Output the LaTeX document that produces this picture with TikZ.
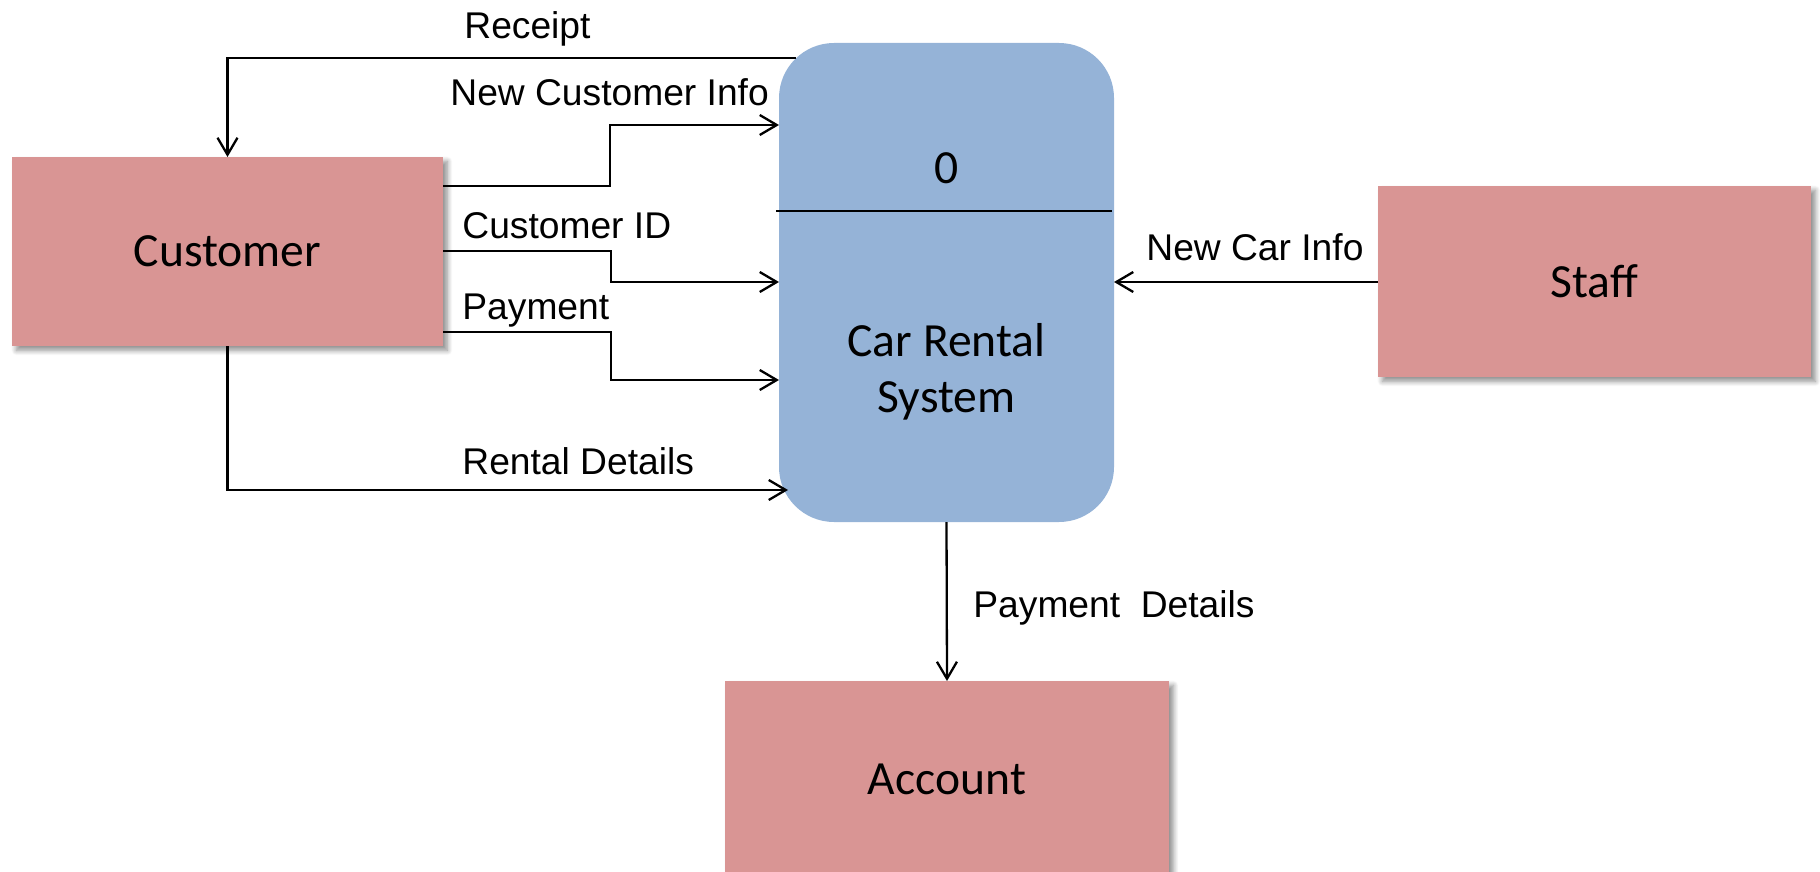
\documentclass[tikz,border=0pt]{standalone}
\usepackage{fontspec}
\setmainfont{Liberation Sans}
\newfontfamily\boxfont{Carlito}
\usetikzlibrary{arrows.meta,calc,shadows.blur}

\definecolor{entityfill}{HTML}{D99594}
\definecolor{processfill}{HTML}{95B3D7}

\tikzset{
  entity/.style={rectangle, fill=entityfill, draw=none, inner sep=0pt, outer sep=0pt,
    font=\boxfont\fontsize{23.8}{28}\selectfont,
    blur shadow={shadow xshift=2.2pt, shadow yshift=-2.2pt, shadow blur radius=2.5pt,
      shadow blur steps=8, shadow opacity=45}},
  process/.style={rectangle, rounded corners=27.5pt, fill=processfill, draw=none,
    inner sep=0pt, outer sep=0pt},
  ptext/.style={font=\boxfont\fontsize{23.8}{28}\selectfont, inner sep=0pt, align=center},
  flow/.style={line width=1.15pt, -{Straight Barb[length=8.5pt,width=10pt,line width=1.15pt]}},
  flowlabel/.style={font=\fontsize{18.6}{22}\selectfont, inner sep=0pt, anchor=base west}
}

\begin{document}
\begin{tikzpicture}[x=0.5pt, y=-0.5pt]
  \useasboundingbox (0,0) rectangle (1820,872);

  % external entities
  \node[entity, minimum width=215.5pt, minimum height=94.5pt] (cust) at (227.5,251.5) {Customer};
  \node[entity, minimum width=216.5pt, minimum height=95.5pt] (staff) at (1594.5,281.5) {Staff};
  \node[entity, minimum width=222pt, minimum height=98pt] (acct) at (947,779) {Account};

  % the process
  \node[process, minimum width=167.5pt, minimum height=239.5pt] (proc) at (946.5,282.5) {};
  \node[ptext, anchor=base] (pid) at (946.5,184) {0};
  \node[ptext, anchor=base] (pname1) at (946.5,356) {Car Rental};
  \node[ptext, anchor=base] (pname2) at (946.5,412) {System};
  \draw[line width=1.2pt] ($(proc.west |- 0,211)+(-3,0)$) -- ($(proc.east |- 0,211)+(-2,0)$);

  % corner points on the rounded outline
  \coordinate (receiptstart) at ($(proc.north west)+(17,15)$);
  \coordinate (rentaltip) at ($(proc.south west)+(9,-32)$);

  % data flows
  \draw[flow] (receiptstart) -| (cust.north);
  \draw[flow] (cust.east |- 0,186) -- (610,186) |- (proc.west |- 0,125);
  \draw[flow] (cust.east |- 0,251) -- (611,251) |- (proc.west |- 0,282);
  \draw[flow] (cust.east |- 0,332) -- (611,332) |- (proc.west |- 0,380);
  \draw[flow] (cust.south) |- (rentaltip);
  \draw[flow] (staff.west |- 0,282) -- (proc.east |- 0,282);
  \draw[flow] (proc.south) -- (acct.north);

  % flow labels
  \node[flowlabel] (lreceipt) at (464,39) {Receipt};
  \node[flowlabel] (lnewcust) at (450,105) {New Customer Info};
  \node[flowlabel] (lcustid) at (462,238) {Customer ID};
  \node[flowlabel] (lpay) at (462,319) {Payment};
  \node[flowlabel] (lrental) at (462,474) {Rental Details};
  \node[flowlabel] (lnewcar) at (1146,260) {New Car Info};
  \node[flowlabel] (lpaydet) at (973,617) {Payment\ \ Details};
\end{tikzpicture}
\end{document}
